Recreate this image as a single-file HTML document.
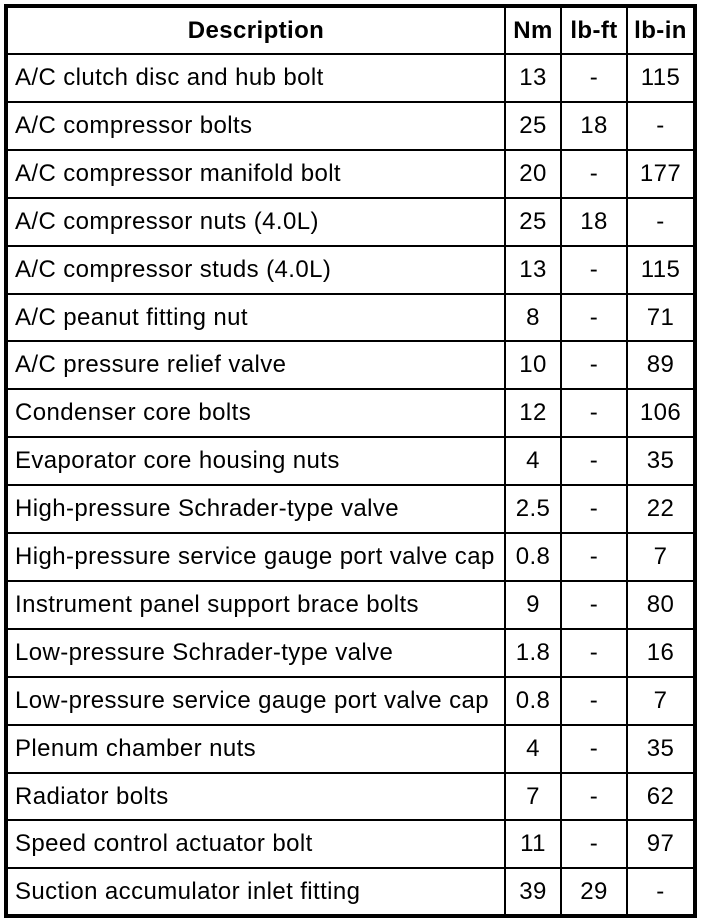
<!DOCTYPE html>
<html>
<head>
<meta charset="utf-8">
<style>
html,body{margin:0;padding:0;background:#fff;}
body{width:704px;height:924px;position:relative;overflow:hidden;font-family:"Liberation Sans",Arial,sans-serif;color:#000;}
.box{position:absolute;left:4px;top:4px;width:693px;height:914px;box-sizing:border-box;border:4px solid #000;}
.h{position:absolute;left:6px;width:690px;height:2px;background:#000;}
.v{position:absolute;top:6px;width:2px;height:910px;background:#000;}
.t{position:absolute;font-size:24px;letter-spacing:0.4px;white-space:nowrap;}
.d{left:15px;}
.c{text-align:center;}
.b{font-weight:bold;}
</style>
</head>
<body>
<div class="box"></div>
<div class="v" style="left:504px"></div>
<div class="v" style="left:560px"></div>
<div class="v" style="left:626px"></div>

<div class="h" style="top:53px"></div>
<div class="h" style="top:101px"></div>
<div class="h" style="top:149px"></div>
<div class="h" style="top:197px"></div>
<div class="h" style="top:245px"></div>
<div class="h" style="top:293px"></div>
<div class="h" style="top:340px"></div>
<div class="h" style="top:388px"></div>
<div class="h" style="top:436px"></div>
<div class="h" style="top:484px"></div>
<div class="h" style="top:532px"></div>
<div class="h" style="top:580px"></div>
<div class="h" style="top:628px"></div>
<div class="h" style="top:676px"></div>
<div class="h" style="top:724px"></div>
<div class="h" style="top:772px"></div>
<div class="h" style="top:819px"></div>
<div class="h" style="top:867px"></div>

<!-- header -->
<div class="t b c" style="left:8px;width:496px;top:8px;height:45px;line-height:45px;">Description</div>
<div class="t b c" style="left:506px;width:54px;top:8px;height:45px;line-height:45px;">Nm</div>
<div class="t b c" style="left:562px;width:64px;top:8px;height:45px;line-height:45px;">lb-ft</div>
<div class="t b c" style="left:628px;width:65px;top:8px;height:45px;line-height:45px;">lb-in</div>

<!-- rows -->
<div style="position:absolute;left:0;top:55px;width:704px;height:46px;">
<div class="t d" style="top:0;line-height:46px;">A/C clutch disc and hub bolt</div>
<div class="t c" style="left:506px;width:54px;line-height:46px;">13</div>
<div class="t c" style="left:562px;width:64px;line-height:46px;">-</div>
<div class="t c" style="left:628px;width:65px;line-height:46px;">115</div>
</div>
<div style="position:absolute;left:0;top:103px;width:704px;height:46px;">
<div class="t d" style="line-height:46px;">A/C compressor bolts</div>
<div class="t c" style="left:506px;width:54px;line-height:46px;">25</div>
<div class="t c" style="left:562px;width:64px;line-height:46px;">18</div>
<div class="t c" style="left:628px;width:65px;line-height:46px;">-</div>
</div>
<div style="position:absolute;left:0;top:151px;width:704px;height:46px;">
<div class="t d" style="line-height:46px;">A/C compressor manifold bolt</div>
<div class="t c" style="left:506px;width:54px;line-height:46px;">20</div>
<div class="t c" style="left:562px;width:64px;line-height:46px;">-</div>
<div class="t c" style="left:628px;width:65px;line-height:46px;">177</div>
</div>
<div style="position:absolute;left:0;top:199px;width:704px;height:46px;">
<div class="t d" style="line-height:46px;">A/C compressor nuts (4.0L)</div>
<div class="t c" style="left:506px;width:54px;line-height:46px;">25</div>
<div class="t c" style="left:562px;width:64px;line-height:46px;">18</div>
<div class="t c" style="left:628px;width:65px;line-height:46px;">-</div>
</div>
<div style="position:absolute;left:0;top:247px;width:704px;height:46px;">
<div class="t d" style="line-height:46px;">A/C compressor studs (4.0L)</div>
<div class="t c" style="left:506px;width:54px;line-height:46px;">13</div>
<div class="t c" style="left:562px;width:64px;line-height:46px;">-</div>
<div class="t c" style="left:628px;width:65px;line-height:46px;">115</div>
</div>
<div style="position:absolute;left:0;top:295px;width:704px;height:45px;">
<div class="t d" style="line-height:45px;">A/C peanut fitting nut</div>
<div class="t c" style="left:506px;width:54px;line-height:45px;">8</div>
<div class="t c" style="left:562px;width:64px;line-height:45px;">-</div>
<div class="t c" style="left:628px;width:65px;line-height:45px;">71</div>
</div>
<div style="position:absolute;left:0;top:342px;width:704px;height:46px;">
<div class="t d" style="line-height:46px;">A/C pressure relief valve</div>
<div class="t c" style="left:506px;width:54px;line-height:46px;">10</div>
<div class="t c" style="left:562px;width:64px;line-height:46px;">-</div>
<div class="t c" style="left:628px;width:65px;line-height:46px;">89</div>
</div>
<div style="position:absolute;left:0;top:390px;width:704px;height:46px;">
<div class="t d" style="line-height:46px;">Condenser core bolts</div>
<div class="t c" style="left:506px;width:54px;line-height:46px;">12</div>
<div class="t c" style="left:562px;width:64px;line-height:46px;">-</div>
<div class="t c" style="left:628px;width:65px;line-height:46px;">106</div>
</div>
<div style="position:absolute;left:0;top:438px;width:704px;height:46px;">
<div class="t d" style="line-height:46px;">Evaporator core housing nuts</div>
<div class="t c" style="left:506px;width:54px;line-height:46px;">4</div>
<div class="t c" style="left:562px;width:64px;line-height:46px;">-</div>
<div class="t c" style="left:628px;width:65px;line-height:46px;">35</div>
</div>
<div style="position:absolute;left:0;top:486px;width:704px;height:46px;">
<div class="t d" style="line-height:46px;">High-pressure Schrader-type valve</div>
<div class="t c" style="left:506px;width:54px;line-height:46px;">2.5</div>
<div class="t c" style="left:562px;width:64px;line-height:46px;">-</div>
<div class="t c" style="left:628px;width:65px;line-height:46px;">22</div>
</div>
<div style="position:absolute;left:0;top:534px;width:704px;height:46px;">
<div class="t d" style="line-height:46px;">High-pressure service gauge port valve cap</div>
<div class="t c" style="left:506px;width:54px;line-height:46px;">0.8</div>
<div class="t c" style="left:562px;width:64px;line-height:46px;">-</div>
<div class="t c" style="left:628px;width:65px;line-height:46px;">7</div>
</div>
<div style="position:absolute;left:0;top:582px;width:704px;height:46px;">
<div class="t d" style="line-height:46px;">Instrument panel support brace bolts</div>
<div class="t c" style="left:506px;width:54px;line-height:46px;">9</div>
<div class="t c" style="left:562px;width:64px;line-height:46px;">-</div>
<div class="t c" style="left:628px;width:65px;line-height:46px;">80</div>
</div>
<div style="position:absolute;left:0;top:630px;width:704px;height:46px;">
<div class="t d" style="line-height:46px;">Low-pressure Schrader-type valve</div>
<div class="t c" style="left:506px;width:54px;line-height:46px;">1.8</div>
<div class="t c" style="left:562px;width:64px;line-height:46px;">-</div>
<div class="t c" style="left:628px;width:65px;line-height:46px;">16</div>
</div>
<div style="position:absolute;left:0;top:678px;width:704px;height:46px;">
<div class="t d" style="line-height:46px;">Low-pressure service gauge port valve cap</div>
<div class="t c" style="left:506px;width:54px;line-height:46px;">0.8</div>
<div class="t c" style="left:562px;width:64px;line-height:46px;">-</div>
<div class="t c" style="left:628px;width:65px;line-height:46px;">7</div>
</div>
<div style="position:absolute;left:0;top:726px;width:704px;height:46px;">
<div class="t d" style="line-height:46px;">Plenum chamber nuts</div>
<div class="t c" style="left:506px;width:54px;line-height:46px;">4</div>
<div class="t c" style="left:562px;width:64px;line-height:46px;">-</div>
<div class="t c" style="left:628px;width:65px;line-height:46px;">35</div>
</div>
<div style="position:absolute;left:0;top:774px;width:704px;height:45px;">
<div class="t d" style="line-height:45px;">Radiator bolts</div>
<div class="t c" style="left:506px;width:54px;line-height:45px;">7</div>
<div class="t c" style="left:562px;width:64px;line-height:45px;">-</div>
<div class="t c" style="left:628px;width:65px;line-height:45px;">62</div>
</div>
<div style="position:absolute;left:0;top:821px;width:704px;height:46px;">
<div class="t d" style="line-height:46px;">Speed control actuator bolt</div>
<div class="t c" style="left:506px;width:54px;line-height:46px;">11</div>
<div class="t c" style="left:562px;width:64px;line-height:46px;">-</div>
<div class="t c" style="left:628px;width:65px;line-height:46px;">97</div>
</div>
<div style="position:absolute;left:0;top:869px;width:704px;height:45px;">
<div class="t d" style="line-height:45px;">Suction accumulator inlet fitting</div>
<div class="t c" style="left:506px;width:54px;line-height:45px;">39</div>
<div class="t c" style="left:562px;width:64px;line-height:45px;">29</div>
<div class="t c" style="left:628px;width:65px;line-height:45px;">-</div>
</div>
</body>
</html>
